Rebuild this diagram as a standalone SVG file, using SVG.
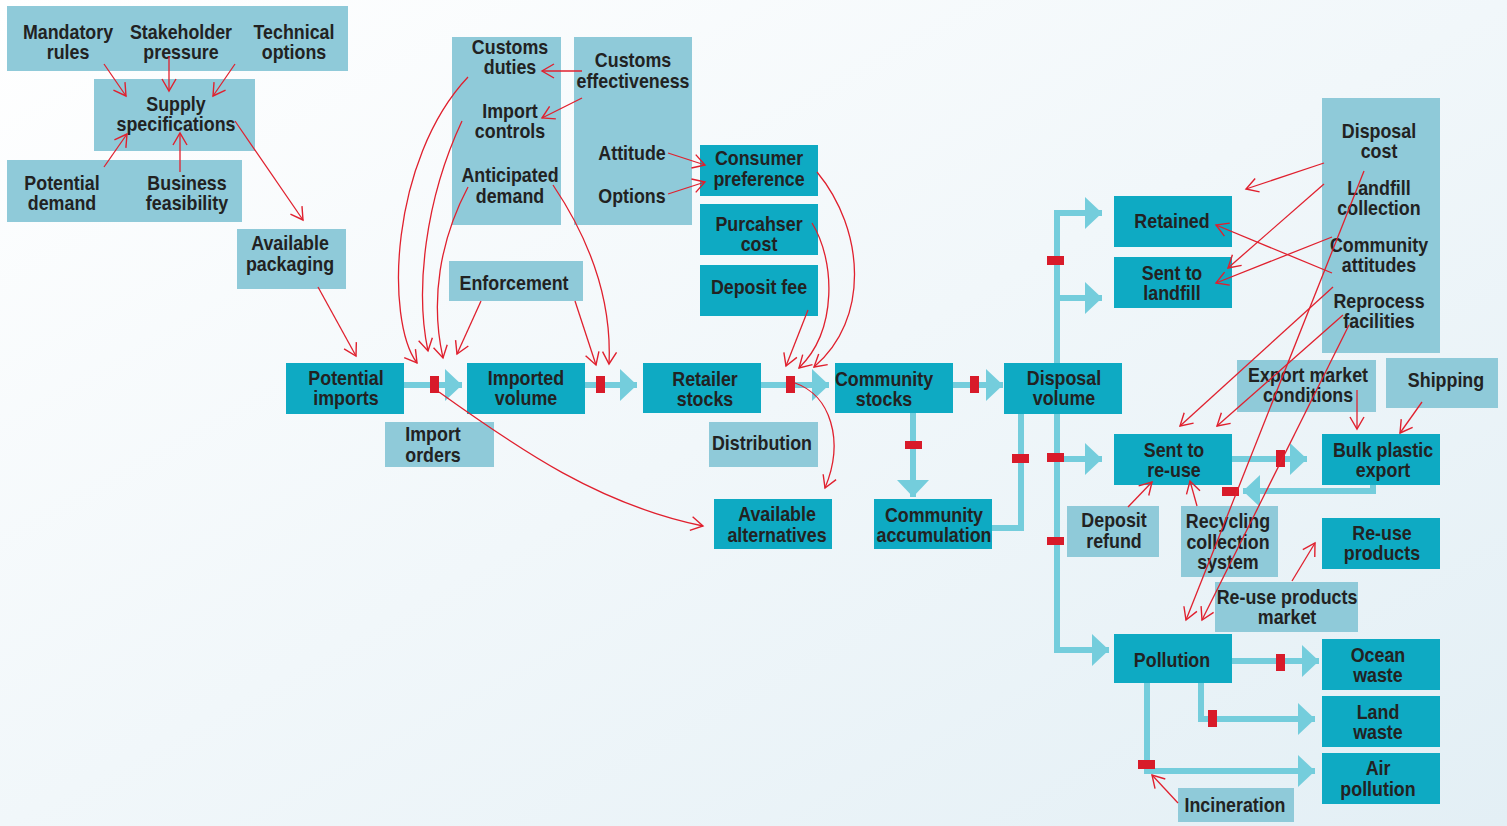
<svg xmlns="http://www.w3.org/2000/svg" width="1507" height="826" viewBox="0 0 1507 826">
<defs>
<linearGradient id="bg" x1="0" y1="0" x2="1" y2="1">
<stop offset="0" stop-color="#ffffff"/>
<stop offset="1" stop-color="#e3eff5"/>
</linearGradient>
<marker id="fa" markerUnits="userSpaceOnUse" markerWidth="18" markerHeight="32" viewBox="0 0 18 32" refX="17" refY="16" orient="auto">
<path d="M0,0 L17,16 L0,32 Z" fill="#74cddc"/>
</marker>
<marker id="ra" markerUnits="userSpaceOnUse" markerWidth="16" markerHeight="16" viewBox="0 0 16 16" refX="14" refY="8" orient="auto">
<path d="M2,1 L14,8 L2,15" fill="none" stroke="#e0202e" stroke-width="1.4"/>
</marker>
</defs>
<style>
.lt{fill:#8fcad9}
.dk{fill:#0eaac3}
.t{font-family:"Liberation Sans",Arial,sans-serif;font-weight:bold;font-size:21px;fill:#222;text-anchor:middle;transform-box:fill-box;transform-origin:center;transform:scaleX(0.85)}
.flow{stroke:#74cddc;stroke-width:6;fill:none}
.fa{marker-end:url(#fa)}
.blk{fill:#d81b2a}
.rel{stroke:#e0202e;stroke-width:1.3;fill:none;marker-end:url(#ra)}
</style>
<rect width="1507" height="826" fill="url(#bg)"/>

<g id="connectors-flow">
<path class="flow fa" d="M404,385 H462"/>
<path class="flow fa" d="M585,385 H637"/>
<path class="flow fa" d="M761,385 H829"/>
<path class="flow fa" d="M953,385 H1003"/>
<path class="flow fa" d="M913,413 V497"/>
<path class="flow" d="M992,528 H1021 V414"/>
<path class="flow fa" d="M1057,363 V213 H1102"/>
<path class="flow fa" d="M1057,298 H1102"/>
<path class="flow fa" d="M1057,414 V650 H1109"/>
<path class="flow fa" d="M1057,459 H1102"/>
<path class="flow fa" d="M1232,459 H1307"/>
<path class="flow fa" d="M1373,485 V491 H1243"/>
<path class="flow fa" d="M1232,661 H1319"/>
<path class="flow fa" d="M1201,683 V719 H1315"/>
<path class="flow fa" d="M1147,683 V771 H1315"/>
<rect class="blk" x="430" y="376" width="9" height="17"/>
<rect class="blk" x="596" y="376" width="9" height="17"/>
<rect class="blk" x="786" y="376" width="9" height="17"/>
<rect class="blk" x="970" y="376" width="9" height="17"/>
<rect class="blk" x="905" y="441" width="17" height="8"/>
<rect class="blk" x="1012" y="454" width="17" height="9"/>
<rect class="blk" x="1047" y="256" width="17" height="9"/>
<rect class="blk" x="1047" y="453" width="17" height="9"/>
<rect class="blk" x="1047" y="537" width="17" height="8"/>
<rect class="blk" x="1276" y="450" width="9" height="17"/>
<rect class="blk" x="1222" y="487" width="17" height="9"/>
<rect class="blk" x="1276" y="654" width="9" height="17"/>
<rect class="blk" x="1208" y="710" width="9" height="17"/>
<rect class="blk" x="1138" y="760" width="17" height="9"/>
</g>

<g id="top-factors">
<rect class="lt" x="7" y="6" width="341" height="65"/>
<g id="mandatory-rules"><text class="t" x="68" y="39">Mandatory</text><text class="t" x="68" y="59">rules</text></g>
<g id="stakeholder-pressure"><text class="t" x="181" y="39">Stakeholder</text><text class="t" x="181" y="59">pressure</text></g>
<g id="technical-options"><text class="t" x="294" y="39">Technical</text><text class="t" x="294" y="59">options</text></g>
</g>
<g id="supply-specifications">
<rect class="lt" x="94" y="79" width="161" height="72"/>
<text class="t" x="176" y="111">Supply</text><text class="t" x="176" y="131">specifications</text>
</g>
<g id="demand-factors">
<rect class="lt" x="7" y="160" width="235" height="62"/>
<g id="potential-demand"><text class="t" x="62" y="190">Potential</text><text class="t" x="62" y="210">demand</text></g>
<g id="business-feasibility"><text class="t" x="187" y="190">Business</text><text class="t" x="187" y="210">feasibility</text></g>
</g>
<g id="available-packaging">
<rect class="lt" x="237" y="229" width="109" height="60"/>
<text class="t" x="290" y="250">Available</text><text class="t" x="290" y="271">packaging</text>
</g>
<g id="customs-column">
<rect class="lt" x="452" y="37" width="109" height="188"/>
<g id="customs-duties"><text class="t" x="510" y="54">Customs</text><text class="t" x="510" y="74">duties</text></g>
<g id="import-controls"><text class="t" x="510" y="118">Import</text><text class="t" x="510" y="138">controls</text></g>
<g id="anticipated-demand"><text class="t" x="510" y="182">Anticipated</text><text class="t" x="510" y="203">demand</text></g>
</g>
<g id="effectiveness-column">
<rect class="lt" x="574" y="37" width="118" height="188"/>
<g id="customs-effectiveness"><text class="t" x="633" y="67">Customs</text><text class="t" x="633" y="88">effectiveness</text></g>
<g id="attitude"><text class="t" x="632" y="160">Attitude</text></g>
<g id="options"><text class="t" x="632" y="203">Options</text></g>
</g>
<g id="enforcement">
<rect class="lt" x="449" y="261" width="134" height="40"/>
<text class="t" x="514" y="290">Enforcement</text>
</g>
<g id="potential-imports">
<rect class="dk" x="286" y="363" width="118" height="51"/>
<text class="t" x="346" y="385">Potential</text><text class="t" x="346" y="405">imports</text>
</g>
<g id="import-orders">
<rect class="lt" x="385" y="422" width="109" height="45"/>
<text class="t" x="433" y="441">Import</text><text class="t" x="433" y="462">orders</text>
</g>
<g id="imported-volume">
<rect class="dk" x="467" y="363" width="118" height="51"/>
<text class="t" x="526" y="385">Imported</text><text class="t" x="526" y="405">volume</text>
</g>
<g id="consumer-preference">
<rect class="dk" x="700" y="145" width="118" height="51"/>
<text class="t" x="759" y="165">Consumer</text><text class="t" x="759" y="186">preference</text>
</g>
<g id="purchaser-cost">
<rect class="dk" x="700" y="204" width="118" height="51"/>
<text class="t" x="759" y="231">Purcahser</text><text class="t" x="759" y="251">cost</text>
</g>
<g id="deposit-fee">
<rect class="dk" x="700" y="265" width="118" height="51"/>
<text class="t" x="759" y="294">Deposit fee</text>
</g>
<g id="retailer-stocks">
<rect class="dk" x="643" y="363" width="118" height="50"/>
<text class="t" x="705" y="386">Retailer</text><text class="t" x="705" y="406">stocks</text>
</g>
<g id="distribution">
<rect class="lt" x="709" y="422" width="109" height="45"/>
<text class="t" x="762" y="450">Distribution</text>
</g>
<g id="available-alternatives">
<rect class="dk" x="714" y="499" width="118" height="50"/>
<text class="t" x="777" y="521">Available</text><text class="t" x="777" y="542">alternatives</text>
</g>
<g id="community-stocks">
<rect class="dk" x="835" y="363" width="118" height="50"/>
<text class="t" x="884" y="386">Community</text><text class="t" x="884" y="406">stocks</text>
</g>
<g id="community-accumulation">
<rect class="dk" x="874" y="499" width="118" height="50"/>
<text class="t" x="934" y="522">Community</text><text class="t" x="934" y="542">accumulation</text>
</g>
<g id="disposal-volume">
<rect class="dk" x="1004" y="363" width="118" height="51"/>
<text class="t" x="1064" y="385">Disposal</text><text class="t" x="1064" y="405">volume</text>
</g>
<g id="retained">
<rect class="dk" x="1114" y="196" width="118" height="51"/>
<text class="t" x="1172" y="228">Retained</text>
</g>
<g id="sent-to-landfill">
<rect class="dk" x="1114" y="257" width="118" height="51"/>
<text class="t" x="1172" y="280">Sent to</text><text class="t" x="1172" y="300">landfill</text>
</g>
<g id="disposal-factors">
<rect class="lt" x="1322" y="98" width="118" height="255"/>
<g id="disposal-cost"><text class="t" x="1379" y="138">Disposal</text><text class="t" x="1379" y="158">cost</text></g>
<g id="landfill-collection"><text class="t" x="1379" y="195">Landfill</text><text class="t" x="1379" y="215">collection</text></g>
<g id="community-attitudes"><text class="t" x="1379" y="252">Community</text><text class="t" x="1379" y="272">attitudes</text></g>
<g id="reprocess-facilities"><text class="t" x="1379" y="308">Reprocess</text><text class="t" x="1379" y="328">facilities</text></g>
</g>
<g id="export-market-conditions">
<rect class="lt" x="1237" y="360" width="139" height="52"/>
<text class="t" x="1308" y="382">Export market</text><text class="t" x="1308" y="402">conditions</text>
</g>
<g id="shipping">
<rect class="lt" x="1386" y="358" width="112" height="50"/>
<text class="t" x="1446" y="387">Shipping</text>
</g>
<g id="sent-to-re-use">
<rect class="dk" x="1114" y="434" width="118" height="51"/>
<text class="t" x="1174" y="457">Sent to</text><text class="t" x="1174" y="477">re-use</text>
</g>
<g id="bulk-plastic-export">
<rect class="dk" x="1322" y="434" width="118" height="51"/>
<text class="t" x="1383" y="457">Bulk plastic</text><text class="t" x="1383" y="477">export</text>
</g>
<g id="deposit-refund">
<rect class="lt" x="1067" y="506" width="92" height="51"/>
<text class="t" x="1114" y="527">Deposit</text><text class="t" x="1114" y="548">refund</text>
</g>
<g id="recycling-collection-system">
<rect class="lt" x="1181" y="506" width="97" height="71"/>
<text class="t" x="1228" y="528">Recycling</text><text class="t" x="1228" y="549">collection</text><text class="t" x="1228" y="569">system</text>
</g>
<g id="re-use-products">
<rect class="dk" x="1322" y="518" width="118" height="51"/>
<text class="t" x="1382" y="540">Re-use</text><text class="t" x="1382" y="560">products</text>
</g>
<g id="re-use-products-market">
<rect class="lt" x="1215" y="582" width="143" height="50"/>
<text class="t" x="1287" y="604">Re-use products</text><text class="t" x="1287" y="624">market</text>
</g>
<g id="pollution">
<rect class="dk" x="1114" y="634" width="118" height="49"/>
<text class="t" x="1172" y="667">Pollution</text>
</g>
<g id="ocean-waste">
<rect class="dk" x="1322" y="639" width="118" height="51"/>
<text class="t" x="1378" y="662">Ocean</text><text class="t" x="1378" y="682">waste</text>
</g>
<g id="land-waste">
<rect class="dk" x="1322" y="696" width="118" height="51"/>
<text class="t" x="1378" y="719">Land</text><text class="t" x="1378" y="739">waste</text>
</g>
<g id="air-pollution">
<rect class="dk" x="1322" y="753" width="118" height="51"/>
<text class="t" x="1378" y="775">Air</text><text class="t" x="1378" y="796">pollution</text>
</g>
<g id="incineration">
<rect class="lt" x="1178" y="788" width="116" height="34"/>
<text class="t" x="1235" y="812">Incineration</text>
</g>

<g id="connectors-influence">
<path class="rel" d="M104,64 L126,96"/>
<path class="rel" d="M169,56 L169,91"/>
<path class="rel" d="M235,64 L213,96"/>
<path class="rel" d="M104,167 L127,134"/>
<path class="rel" d="M180,172 L180,133"/>
<path class="rel" d="M235,121 L303,220"/>
<path class="rel" d="M318,287 L356,356"/>
<path class="rel" d="M582,71 L542,71"/>
<path class="rel" d="M582,98 L542,118"/>
<path class="rel" d="M668,153 L705,165"/>
<path class="rel" d="M668,194 L705,182"/>
<path class="rel" d="M468,77 C390,160 385,320 417,363"/>
<path class="rel" d="M462,121 C425,200 415,290 428,351"/>
<path class="rel" d="M468,187 C440,240 430,300 443,358"/>
<path class="rel" d="M481,301 L457,354"/>
<path class="rel" d="M553,185 C590,240 612,300 609,364"/>
<path class="rel" d="M575,301 L596,365"/>
<path class="rel" d="M817,172 C865,230 870,320 814,367"/>
<path class="rel" d="M812,223 C835,260 838,330 799,368"/>
<path class="rel" d="M808,310 L786,366"/>
<path class="rel" d="M795,383 C830,395 845,440 825,488"/>
<path class="rel" d="M439,392 C520,450 600,505 703,526"/>
<path class="rel" d="M1324,163 L1246,189"/>
<path class="rel" d="M1324,184 L1228,268"/>
<path class="rel" d="M1332,237 L1216,283"/>
<path class="rel" d="M1332,273 L1216,225"/>
<path class="rel" d="M1333,287 L1180,426"/>
<path class="rel" d="M1343,315 L1217,426"/>
<path class="rel" d="M1364,171 L1186,620"/>
<path class="rel" d="M1349,325 L1202,620"/>
<path class="rel" d="M1357,390 L1357,429"/>
<path class="rel" d="M1422,402 L1400,433"/>
<path class="rel" d="M1128,507 L1152,482"/>
<path class="rel" d="M1197,506 L1190,481"/>
<path class="rel" d="M1292,581 L1315,543"/>
<path class="rel" d="M1178,803 L1152,775"/>
</g>
</svg>
